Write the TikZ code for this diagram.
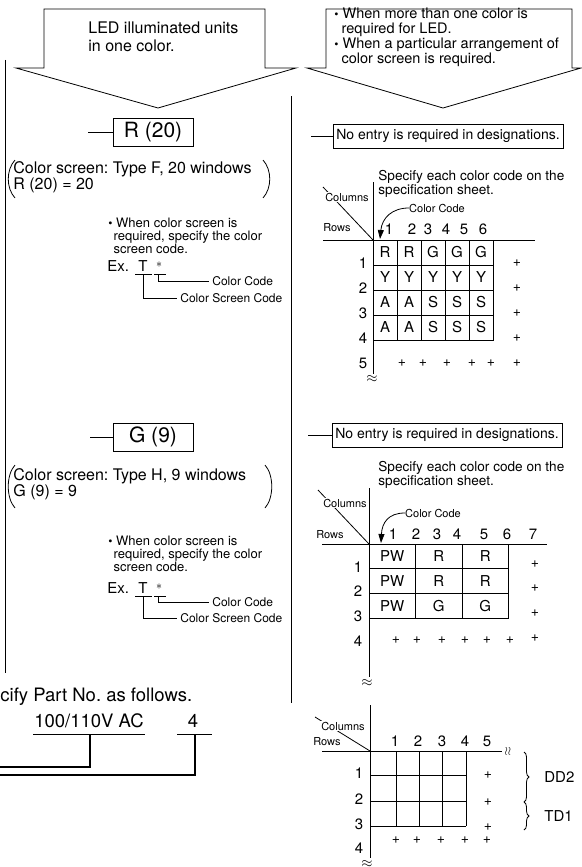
\documentclass[tikz,border=0pt]{standalone}
\usepackage{fontspec}
\setmainfont{TeX Gyre Heros}
\usetikzlibrary{positioning, arrows.meta, decorations.pathreplacing}
\newcommand{\fsz}[2]{\fontsize{#1}{#2}\selectfont}
\newcommand{\bul}{\raisebox{0.05em}{\fsz{12}{12}\textbullet}\ }
\frenchspacing

\begin{document}
\begin{tikzpicture}[x=1pt, y=-1pt, line width=0.8pt,
  every node/.style={inner sep=0pt},
  body/.style={font=\fsz{16}{15}, align=left},
  note/.style={font=\fsz{13}{12.3}, align=left},
  small/.style={font=\fsz{12}{12}},
  tiny/.style={font=\fsz{11}{11}},
  mask/.style={tiny, fill=white, inner sep=1pt},
  num/.style={font=\fsz{15}{15}},
  cellt/.style={draw, line width=1pt, font=\fsz{15}{15}},
  plus/.style={font=\fsz{14}{14}},
  codebox/.style={draw, font=\fsz{21}{21}, minimum width=80, minimum height=28},
  entrybox/.style={draw, font=\fsz{14}{14}, minimum width=230, minimum height=24},
  brace/.style={decorate, decoration={brace, amplitude=5pt}},
]
  \useasboundingbox (0,0) rectangle (581,867);

  % callouts at the top
  \draw (44,9) -- (265,9) -- (265,68) -- (296,68) -- (158,108) -- (16,68) -- (44,68) -- cycle;
  \node[font=\fsz{16}{18.5}, align=left, anchor=west] (led) at (88,37)
    {LED illuminated units\\in one color.};
  \draw (326,9) -- (572,9) -- (572,68) -- (581,68) -- (443,108) -- (307,68) -- (326,68) -- cycle;
  \node[font=\fsz{14.5}{15}, align=left, anchor=north west] (multi) at (334,8)
    {\bul When more than one color is\\\hspace{0.5em}required for LED.\\
     \bul When a particular arrangement of\\\hspace{0.5em}color screen is required.};

  % dividers
  \coordinate (leftTop) at (5,60);    \coordinate (leftEnd) at (5,673);
  \coordinate (midTop) at (291,96);   \coordinate (midEnd) at (291,703);
  \draw (leftTop) -- (leftEnd);
  \draw (midTop) -- (midEnd);

  % left: R (20)
  \node[codebox] (r20) at (153,132) {R (20)};
  \coordinate (r20in) at (88,132);
  \draw (r20in) -- (r20);
  \node[body, anchor=west] (scrF) at (13,177.5) {Color screen: Type F, 20 windows\\R (20) = 20};
  \draw (15,160) .. controls (6,170) and (6,188) .. (15,198);
  \draw (263,160) .. controls (272,170) and (272,188) .. (263,198);
  \node[note, anchor=west] (noteA) at (108,236)
    {\bul When color screen is\\\hspace{0.4em}required, specify the color\\\hspace{0.4em}screen code.};
  \node[font=\fsz{15}{15}, anchor=west] (exA) at (107,266) {Ex.};
  \node[font=\fsz{15}{15}] (tA) at (143,266) {T};
  \node[font=\fsz{13}{13}] (sA) at (159,265) {$\ast$};
  \draw (135,274) -- (152,274);
  \draw (154,274) -- (166,274);
  \node[small, anchor=west] (ccA) at (212,281) {Color Code};
  \node[small, anchor=west] (cscA) at (180,298) {Color Screen Code};
  \coordinate (sAfoot) at (158,274);
  \coordinate (tAfoot) at (143,274);
  \draw (sAfoot) |- ([xshift=-3pt]ccA.west);
  \draw (tAfoot) |- ([xshift=-3pt]cscA.west);

  % left: G (9)
  \node[codebox] (g9) at (153,437) {G (9)};
  \coordinate (g9in) at (90,437);
  \draw (g9in) -- (g9);
  \node[body, anchor=west] (scrH) at (13,484) {Color screen: Type H, 9 windows\\G (9) = 9};
  \draw (15,465) .. controls (6,475) and (6,498) .. (15,508);
  \draw (265,465) .. controls (274,475) and (274,498) .. (265,508);
  \node[note, anchor=west] (noteB) at (108,554)
    {\bul When color screen is\\\hspace{0.4em}required, specify the color\\\hspace{0.4em}screen code.};
  \node[font=\fsz{15}{15}, anchor=west] (exB) at (107,588) {Ex.};
  \node[font=\fsz{15}{15}] (tB) at (143,588) {T};
  \node[font=\fsz{13}{13}] (sB) at (159,587) {$\ast$};
  \draw (135,596) -- (152,596);
  \draw (154,596) -- (166,596);
  \node[small, anchor=west] (ccB) at (212,602) {Color Code};
  \node[small, anchor=west] (cscB) at (180,618) {Color Screen Code};
  \coordinate (sBfoot) at (158,596);
  \coordinate (tBfoot) at (143,596);
  \draw (sBfoot) |- ([xshift=-3pt]ccB.west);
  \draw (tBfoot) |- ([xshift=-3pt]cscB.west);

  % part number
  \node[font=\fsz{18.5}{18.5}, anchor=west] (partno) at (0,697) {cify Part No. as follows.};
  \node[font=\fsz{18.5}{18.5}] (volt) at (89,721) {100/110V AC};
  \node[font=\fsz{18.5}{18.5}] (four) at (193,721) {4};
  \draw (33,734) -- (145,734);
  \draw (177,734) -- (212,734);
  \coordinate (voltfoot) at (90,734);  \coordinate (voltend) at (-2,767);
  \coordinate (fourfoot) at (195,734); \coordinate (fourend) at (-2,775);
  \draw[line width=1.2pt] (voltfoot) |- (voltend);
  \draw[line width=1.2pt] (fourfoot) |- (fourend);

  % right: first grid
  \node[entrybox] (entryA) at (448,136) {No entry is required in designations.};
  \coordinate (entryAin) at (311,136);
  \draw (entryAin) -- (entryA);
  \node[font=\fsz{13.6}{14}, align=left, anchor=west] (specA) at (378,184)
    {Specify each color code on the\\specification sheet.};
  \draw (373,182) -- (373,374);
  \node[num] (wavA) at (372,379) {$\approx$};
  \draw (323,240) -- (535,240);
  \draw (323,187) -- (373,240);
  \node[mask] (colA) at (347,197) {Columns};
  \node[tiny] (rowA) at (337,228) {Rows};
  \node[tiny] (ccgA) at (437,208) {Color Code};
  \draw[-{Triangle[length=9pt,width=6pt]}] (ccgA.west) .. controls (392,208) and (382,218) .. (380,239);
  \foreach \x [count=\i] in {389,412,428,446,464,483}
    \node[num] (nA\i) at (\x,229) {\i};
  \foreach \row [count=\r] in {{R,R,G,G,G},{Y,Y,Y,Y,Y},{A,A,S,S,S},{A,A,S,S,S}}
    \foreach \c [count=\k] in \row
      \node[cellt, minimum width=24, minimum height=25] (gA\r\k) at ({361+24*\k},{227.5+25*\r}) {\c};
  \foreach \r in {1,...,5} {
    \node[num] (rA\r) at (363,{238+25*\r}) {\r};
    \node[plus] (pA\r) at (517,{238.5+25*\r}) {+};
  }
  \foreach \x [count=\k] in {402,423,447,472,491}
    \node[plus] (qA\k) at (\x,363.5) {+};

  % right: second grid
  \node[entrybox] (entryB) at (447,435) {No entry is required in designations.};
  \coordinate (entryBin) at (308,435);
  \draw (entryBin) -- (entryB);
  \node[font=\fsz{13.6}{14}, align=left, anchor=west] (specB) at (378,475)
    {Specify each color code on the\\specification sheet.};
  \draw (369,488) -- (369,677);
  \node[num] (wavB) at (367,683) {$\approx$};
  \draw (322,544) -- (547,544);
  \draw (318,490) -- (369,544);
  \node[mask] (colB) at (345,503) {Columns};
  \node[tiny] (rowB) at (330,535) {Rows};
  \node[tiny] (ccgB) at (433,513) {Color Code};
  \draw[-{Triangle[length=9pt,width=6pt]}] (ccgB.west) .. controls (388,513) and (382,523) .. (381,543);
  \foreach \x [count=\i] in {393,416,437,457,484,507,533}
    \node[num] (nB\i) at (\x,534) {\i};
  \foreach \row [count=\r] in {{PW,R,R},{PW,R,R},{PW,G,G}}
    \foreach \c [count=\k] in \row
      \node[cellt, minimum width=46.5, minimum height=24.7] (gB\r\k) at ({345.75+46.5*\k},{531.65+24.7*\r}) {\c};
  \foreach \r in {1,...,4} {
    \node[num] (rB\r) at (358,{542+24.7*\r}) {\r};
    \node[plus] (pB\r) at (535,{539+24.7*\r}) {+};
  }
  \foreach \x [count=\k] in {396,417,442,465,487,510}
    \node[plus] (qB\k) at (\x,640) {+};

  % right: third grid
  \draw (370,705) -- (370,858);
  \node[num] (wavC) at (367,864) {$\approx$};
  \draw (322,751) -- (502,751);
  \node[font=\fsz{13}{13}] (wrC) at (508,751) {$\wr\wr$};
  \draw (315,717) -- (370,751);
  \node[mask] (colC) at (343,726) {Columns};
  \node[tiny] (rowC) at (327,742) {Rows};
  \foreach \x [count=\i] in {395,418,442,465,487}
    \node[num] (nC\i) at (\x,741) {\i};
  \foreach \y in {775,801,826}
    \draw[line width=1pt] (370,\y) -- (466,\y);
  \foreach \x in {396,419,442,466}
    \draw[line width=1pt] (\x,751) -- (\x,826);
  \foreach \y [count=\r] in {773,799,824,848}
    \node[num] (rC\r) at (359,\y) {\r};
  \foreach \y [count=\r] in {775,802,827}
    \node[plus] (pC\r) at (488,\y) {+};
  \foreach \x [count=\k] in {396,417,441,465,487}
    \node[plus] (qC\k) at (\x,840) {+};
  \draw[brace] (524,752) -- node[right=20pt, font=\fsz{15}{15}] (dd2) {DD2} (524,802);
  \draw[brace] (524,802) -- node[right=20pt, font=\fsz{15}{15}] (td1) {TD1} (524,830);
\end{tikzpicture}
\end{document}
